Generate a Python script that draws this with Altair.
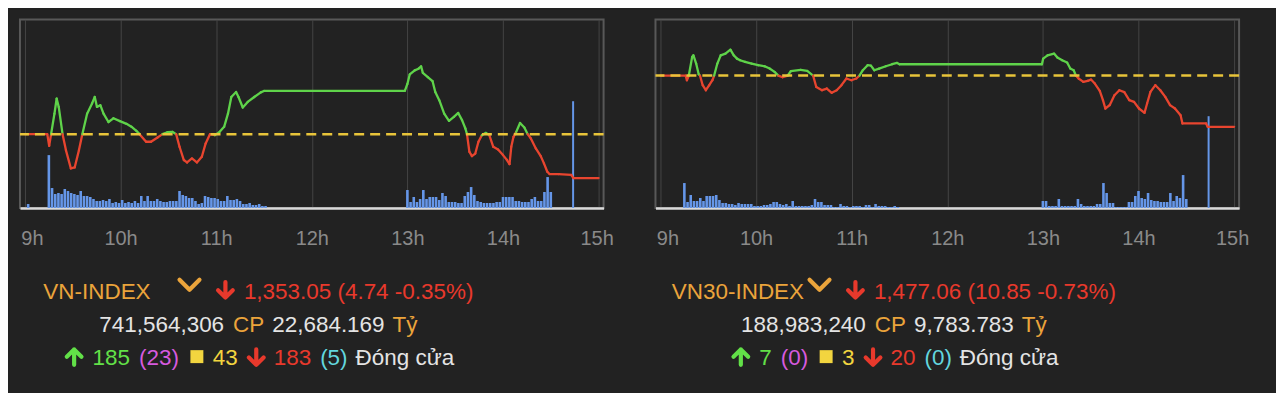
import altair as alt
import numpy as np
import pandas as pd

# ---------------- data ----------------
hour_ticks = [9, 10, 11, 12, 13, 14, 15]

# VN-INDEX intraday (minutes after 9:00, index points)
vn_ref = 1357.79
vn_t = [0, 14, 15.2, 16.4, 18.5, 19.9, 21.2, 23.6, 25.7, 28.8, 31.2, 33.9, 36.0, 39.0,
        42.1, 43.8, 45.2, 47.3, 49.3, 52.4, 55.5, 59.6, 63.7, 66.8, 69.9, 71.9, 76.0,
        79.1, 83.2, 86.3, 89.4, 92.5, 94.9, 97.0, 99.7, 101.7, 104.8, 107.9, 111.0,
        113.4, 116.1, 119.2, 122.2, 125.0, 127.4, 129.5, 132.5, 134.0, 136.7, 139.8,
        143.9, 148.0, 150.0, 238.4, 240.0, 241.5, 244.6, 247.0, 248.6, 249.7, 252.8,
        255.8, 257.5, 260.0, 263.1, 266.1, 269.2, 271.9, 274.3, 276.4, 277.4, 278.9,
        280.5, 282.6, 284.6, 286.7, 289.3, 291.4, 293.9, 296.9, 300.0, 302.5, 304.1,
        305.2, 306.6, 308.3, 310.7, 313.4, 315.5, 317.5, 320.6, 323.7, 325.7, 327.8,
        329.2, 335.0, 342.8, 344.2, 360.0]
vn_v = [1357.79, 1357.79, 1356.54, 1357.79, 1359.99, 1361.63, 1360.73, 1357.79, 1356.07,
        1354.10, 1354.20, 1356.07, 1357.79, 1359.99, 1361.09, 1361.80, 1360.73, 1360.91,
        1360.00, 1359.10, 1359.50, 1359.20, 1358.90, 1358.60, 1358.15, 1357.79, 1356.97,
        1356.97, 1357.43, 1357.79, 1358.00, 1358.04, 1357.79, 1356.43, 1355.00, 1354.74,
        1355.17, 1354.74, 1355.35, 1356.79, 1357.79, 1357.68, 1358.04, 1358.58, 1360.00,
        1361.80, 1362.34, 1361.80, 1360.66, 1361.27, 1361.80, 1362.30, 1362.45, 1362.45,
        1363.20, 1364.24, 1364.67, 1364.85, 1365.10, 1364.40, 1363.95, 1363.50, 1362.34,
        1361.45, 1360.00, 1359.22, 1359.65, 1360.08, 1359.30, 1358.40, 1357.79, 1355.89,
        1355.42, 1355.70, 1356.97, 1357.68, 1357.93, 1357.68, 1356.43, 1356.14, 1355.53,
        1355.00, 1354.56, 1356.43, 1357.50, 1358.04, 1359.00, 1358.50, 1357.79, 1357.32,
        1356.25, 1355.42, 1354.64, 1353.74, 1353.49, 1353.49, 1353.40, 1353.05, 1353.05]

# VN30-INDEX intraday
vn30_ref = 1487.91
vn30_t = [0, 15.8, 16.6, 17.8, 19.9, 20.7, 22.4, 24.0, 24.8, 26.5, 28.5, 30.6, 32.6, 33.7,
          35.7, 37.8, 40.8, 43.9, 46.0, 48.0, 50.0, 53.1, 57.2, 61.3, 65.4, 68.5, 71.6,
          74.0, 76.7, 79.8, 81.8, 88.0, 92.1, 95.8, 97.8, 101.4, 104.4, 107.5, 110.6,
          113.6, 116.7, 119.8, 122.9, 124.9, 127.0, 130.0, 132.1, 134.2, 137.2, 141.4,
          145.4, 148.5, 150.0, 239.4, 240.2, 242.9, 247.0, 249.1, 252.1, 255.2, 257.2,
          259.3, 260.7, 262.4, 265.4, 268.1, 270.2, 272.6, 275.7, 277.7, 279.2, 281.9,
          284.9, 288.0, 291.1, 294.2, 297.2, 300.3, 303.8, 305.4, 307.5, 310.6, 313.7,
          316.8, 319.8, 322.9, 326.4, 327.6, 342.4, 343.4, 360.0]
vn30_v = [1487.91, 1487.91, 1486.92, 1487.91, 1491.86, 1492.20, 1490.45, 1488.19, 1487.91,
          1485.87, 1484.81, 1485.87, 1486.92, 1487.91, 1490.45, 1492.20, 1492.56, 1493.40,
          1492.20, 1491.50, 1491.15, 1490.80, 1490.45, 1490.10, 1489.88, 1489.39, 1488.69,
          1487.91, 1487.56, 1487.91, 1488.83, 1489.10, 1488.90, 1487.91, 1485.50, 1484.81,
          1485.16, 1484.25, 1484.81, 1485.87, 1487.28, 1486.92, 1487.28, 1487.91, 1489.04,
          1490.10, 1490.00, 1489.04, 1489.39, 1489.88, 1490.31, 1490.59, 1490.31, 1490.31,
          1491.50, 1492.20, 1492.56, 1491.72, 1491.15, 1490.66, 1489.39, 1489.04, 1487.91,
          1487.28, 1486.57, 1486.78, 1487.06, 1486.22, 1484.67, 1482.70, 1480.93, 1481.64,
          1483.75, 1484.81, 1484.39, 1482.70, 1482.34, 1480.93, 1480.02, 1481.99, 1484.46,
          1485.87, 1484.81, 1483.40, 1481.64, 1480.93, 1479.52, 1477.76, 1477.76, 1477.06,
          1477.06]

# matched volume per 2-minute bar (relative units), morning from 9:15, afternoon from 13:00
vn_vol_am = [53, 20, 14, 15, 14, 19, 17, 15, 14, 13, 17, 12, 12, 11, 9, 7, 7, 8, 7, 9, 5, 6,
             5, 8, 5, 6, 5, 7, 5, 12, 7, 12, 7, 7, 9, 7, 6, 6, 7, 7, 7, 17, 13, 12, 10, 10,
             7, 4, 5, 12, 11, 10, 10, 9, 7, 7, 12, 8, 8, 9, 7, 4, 4, 5, 3, 3, 4, 2, 2]
vn_vol_pm = [18, 6, 11, 6, 9, 18, 9, 11, 11, 11, 8, 15, 12, 6, 6, 6, 5, 5, 12, 16, 21, 13,
             7, 6, 5, 5, 5, 5, 6, 6, 11, 11, 11, 11, 7, 7, 6, 6, 6, 9, 11, 7, 7, 16, 31, 16]
vn_vol_open = 4
vn_vol_atc = 107

vn30_vol_am = [25, 6, 13, 7, 7, 10, 7, 12, 12, 12, 13, 8, 5, 5, 4, 4, 3, 5, 4, 4, 4, 4, 2,
               2, 2, 3, 3, 4, 6, 6, 4, 3, 4, 2, 7, 2, 2, 2, 2, 2, 3, 9, 6, 6, 3, 3, 3, 1, 1,
               4, 2, 2, 1, 2, 2, 2, 1, 3, 3, 1, 4, 2, 2, 2, 1, 1, 2, 1]
vn30_vol_pm = [7, 7, 2, 2, 2, 9, 2, 2, 2, 2, 2, 9, 4, 2, 2, 2, 2, 4, 4, 25, 15, 5, 5, 1, 1,
               1, 1, 6, 6, 12, 17, 10, 9, 15, 8, 7, 7, 6, 6, 6, 15, 7, 12, 10, 33, 9]
vn30_vol_atc = 92

# summary texts
vn_info = dict(name="VN-INDEX", close="1,353.05", chg="4.74", pct="-0.35%",
               vol="741,564,306", val="22,684.169", adv="185", ceil="23",
               unch="43", dec="183", floor="5")
vn30_info = dict(name="VN30-INDEX", close="1,477.06", chg="10.85", pct="-0.73%",
                 vol="188,983,240", val="9,783.783", adv="7", ceil="0",
                 unch="3", dec="20", floor="0")
unit_shares = "CP"
unit_value = "Tỷ"
status_text = "Đóng cửa"

# ---------------- style ----------------
BG = "#222222"
FRAME = "#585858"
GRID = "#444444"
BASE = "#d9d9d9"
AXIS_LABEL = "#8a8a8a"
BLUE = "#6596e8"
UP_LINE = "#5fd34a"
DOWN_LINE = "#e8452f"
REF = "#e8c43a"
ORANGE = "#eba43b"
RED = "#e8392c"
WHITE = "#e4e4e4"
GREEN = "#62e048"
MAGENTA = "#d65ade"
YELLOW = "#f2d53f"
CYAN = "#62d6de"
FONT = "Liberation Sans"
FS = 22.5
W, H = 585, 189

CW = {",": .278, ".": .278, " ": .278, "(": .333, ")": .333, "-": .333, "%": .889,
      "V": .667, "N": .722, "I": .278, "D": .722, "E": .667, "X": .667, "C": .722,
      "P": .667, "T": .611, "ỷ": .5, "Đ": .722, "ó": .556, "n": .556, "g": .556,
      "c": .5, "ử": .58, "a": .556}


def tw(s):
    return sum(CW.get(ch, .556) for ch in s) * FS


ICON_W = {"chev": 25, "down": 19, "up": 19, "sq": 14}
CHEV = "M-1,-0.5L0,0.5L1,-0.5"
DOWN = "M0,-1L0,1M-0.95,0.05L0,1L0.95,0.05"
UPP = "M0,1L0,-1M-0.95,-0.05L0,-1L0.95,-0.05"
PATHS = {"chev": (CHEV, 400), "down": (DOWN, 240), "up": (UPP, 240)}

# text rows, in pixels measured from the top of the plot area
L1, L2, L3 = 280, 313, 346


def text_table(info):
    lines = [
        ([("name", info["name"], ORANGE, 0), ("chev", "", ORANGE, 3),
          ("down", "", RED, 14),
          ("text", f'{info["close"]} ({info["chg"]} {info["pct"]})', RED, 9)],
         L1, {"chev": L1 - 14, "down": L1 - 9}),
        ([("text", info["vol"], WHITE, 0), ("text", unit_shares, ORANGE, 9),
          ("text", info["val"], WHITE, 8), ("text", unit_value, ORANGE, 8)], L2, {}),
        ([("up", "", GREEN, 0), ("text", info["adv"], GREEN, 9),
          ("text", f'({info["ceil"]})', MAGENTA, 9), ("sq", "", YELLOW, 11),
          ("text", info["unch"], YELLOW, 9), ("down", "", RED, 9),
          ("text", info["dec"], RED, 8), ("text", f'({info["floor"]})', CYAN, 9),
          ("text", status_text, WHITE, 8)], L3,
         {"up": L3 - 7.5, "down": L3 - 7.5, "sq": L3 - 8}),
    ]
    rows = []
    center = 239
    for segs, base, icon_y in lines:
        widths = []
        for kind, txt, col, gap in segs:
            if kind == "name":
                widths.append(max(131, tw(txt)))
            elif kind == "text":
                widths.append(tw(txt))
            else:
                widths.append(ICON_W[kind])
        total = sum(widths) + sum(s[3] for s in segs)
        x = center - total / 2
        for (kind, txt, col, gap), w in zip(segs, widths):
            x += gap
            if kind in ("name", "text"):
                rows.append(dict(kind="text", label=txt, col=col, px=x, py=base,
                                 shp="", sz=0))
            elif kind == "sq":
                rows.append(dict(kind="sq", label="", col=col, px=x + w / 2,
                                 py=icon_y["sq"], shp="square", sz=169))
            else:
                p, s = PATHS[kind]
                rows.append(dict(kind="icon", label="", col=col, px=x + w / 2,
                                 py=icon_y[kind], shp=p, sz=s))
            x += w
    return pd.DataFrame(rows)


def text_layer(info):
    df = text_table(info)
    base = alt.Chart(df)
    xx = alt.X("px:Q", scale=None, axis=None)
    yy = alt.Y("py:Q", scale=None, axis=None)
    texts = base.transform_filter("datum.kind == 'text'").mark_text(
        align="left", baseline="alphabetic", font=FONT, fontSize=FS).encode(
        x=xx, y=yy, text="label:N", color=alt.Color("col:N", scale=None))
    icons = base.transform_filter("datum.kind == 'icon'").mark_point(
        filled=False, strokeWidth=4.2, strokeCap="round", strokeJoin="round",
        opacity=1).encode(
        x=xx, y=yy, shape=alt.Shape("shp:N", scale=None),
        size=alt.Size("sz:Q", scale=None), color=alt.Color("col:N", scale=None))
    squares = base.transform_filter("datum.kind == 'sq'").mark_square(
        filled=True, opacity=1).encode(
        x=xx, y=yy, size=alt.Size("sz:Q", scale=None),
        color=alt.Color("col:N", scale=None))
    return alt.layer(texts, icons, squares)


def panel(t, v, ref, lo, hi, vol_am, vol_pm, vol_atc, info, vol_open=None):
    t = np.asarray(t, float)
    v = np.asarray(v, float)
    seg = pd.DataFrame({"t": t[:-1], "t2": t[1:], "v": v[:-1], "v2": v[1:]})
    seg["dir"] = np.where((seg.v + seg.v2) / 2 > ref + 1e-6, "up", "down")

    vt = list(range(15, 15 + 2 * len(vol_am), 2)) + \
         list(range(240, 240 + 2 * len(vol_pm), 2))
    vv = list(vol_am) + list(vol_pm)
    if vol_open is not None:
        vt = [2] + vt
        vv = [vol_open] + vv
    vol_df = pd.DataFrame({"t": vt, "vol": vv})
    atc_df = pd.DataFrame({"t": [344], "vol": [vol_atc]})

    xscale = alt.Scale(domain=[0, 360], nice=False, zero=False)
    xaxis = alt.Axis(values=[(h - 9) * 60 for h in hour_ticks],
                     labelExpr="(9 + datum.value / 60) + 'h'",
                     grid=True, gridColor=GRID, gridWidth=1, ticks=False,
                     domain=True, domainColor=BASE, domainWidth=2.5,
                     labelColor=AXIS_LABEL, labelFont=FONT, labelFontSize=20,
                     labelPadding=21, title=None, labelFlush=False,
                     labelOffset={"condition": [{"test": "datum.value == 0", "value": 7},
                                                {"test": "datum.value == 360", "value": -2}],
                                  "value": 0})
    vscale = alt.Scale(domain=[0, H], nice=False)

    bars = alt.Chart(vol_df).mark_bar(width=2.6, color=BLUE).encode(
        x=alt.X("t:Q", scale=xscale, axis=xaxis),
        y=alt.Y("vol:Q", scale=vscale, axis=None))
    atc = alt.Chart(atc_df).mark_bar(width=2, color=BLUE).encode(
        x=alt.X("t:Q", scale=xscale),
        y=alt.Y("vol:Q", scale=vscale, axis=None))

    pscale = alt.Scale(domain=[lo, hi], nice=False, zero=False)
    lines = alt.Chart(seg).mark_rule(strokeWidth=2.3, strokeCap="round").encode(
        x=alt.X("t:Q", scale=xscale), x2="t2:Q",
        y=alt.Y("v:Q", scale=pscale, axis=None), y2="v2:Q",
        color=alt.Color("dir:N", scale=alt.Scale(domain=["up", "down"],
                                                  range=[UP_LINE, DOWN_LINE]),
                        legend=None))
    refl = alt.Chart(pd.DataFrame({"ref": [ref]})).mark_rule(
        color=REF, strokeWidth=2.5, strokeDash=[10, 6]).encode(
        y=alt.Y("ref:Q", scale=pscale, axis=None))

    vol_layer = alt.layer(bars, atc)
    price_layer = alt.layer(lines, refl)
    plot = alt.layer(vol_layer, price_layer).resolve_scale(y="independent")
    return alt.layer(plot, text_layer(info)).resolve_scale(
        x="independent", y="independent", color="independent",
        shape="independent", size="independent").properties(
        width=W, height=H,
        view=alt.ViewBackground(stroke=FRAME, strokeWidth=2))


left = panel(vn_t, vn_v, vn_ref, 1349.83, 1370.16,
             vn_vol_am, vn_vol_pm, vn_vol_atc, vn_info, vn_vol_open)
right = panel(vn30_t, vn30_v, vn30_ref, 1459.86, 1499.8,
              vn30_vol_am, vn30_vol_pm, vn30_vol_atc, vn30_info)

chart = alt.hconcat(left, right, spacing=52, bounds="flush").properties(
    padding={"left": 9, "top": 10, "right": 26, "bottom": 22},
    background=BG,
).configure_view(stroke=None)

chart.save("out.html", embed_options={"renderer": "svg", "actions": False})
